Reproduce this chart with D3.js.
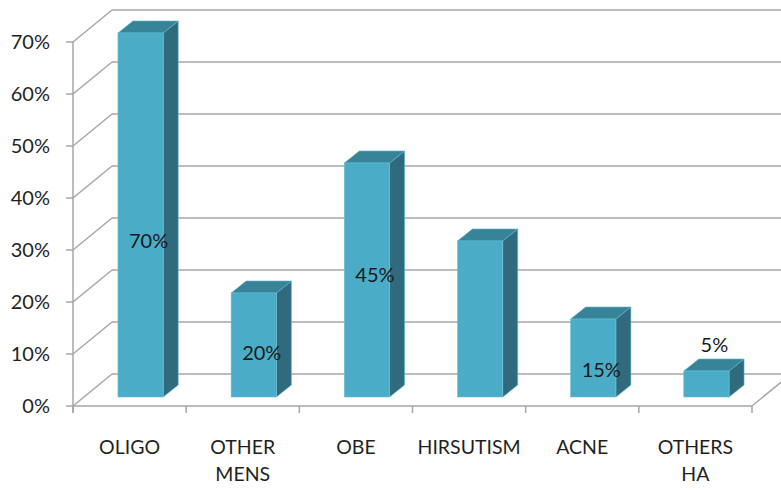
<!DOCTYPE html>
<html>
<head>
<meta charset="utf-8">
<script src="https://cdn.jsdelivr.net/npm/d3@7"></script>
<style>
  html, body { margin: 0; padding: 0; background: #fff; }
  svg { display: block; }
  text { font-family: Lato, "Open Sans", sans-serif; fill: #1f1f1f; }
</style>
</head>
<body>
<div id="chart"></div>
<script>
// ---- data ----
const categories = ["OLIGO", "OTHER\nMENS", "OBE", "HIRSUTISM", "ACNE", "OTHERS\nHA"];
const values = [0.70, 0.20, 0.45, 0.30, 0.15, 0.05];
const dataLabels = ["70%", "20%", "45%", "", "15%", "5%"];
// estimated vertical placement of each data label, in value units
const labelAt = [0.30, 0.085, 0.235, 0, 0.052, 0.10];
const yTicks = [0, 0.1, 0.2, 0.3, 0.4, 0.5, 0.6, 0.7];

// ---- layout ----
const W = 781, H = 490;
const depth = { dx: 39, dy: -32 };      // floor depth
const barOff = { dx: 11, dy: -9 };      // bar front plane shift
const barDepth = { dx: 15, dy: -12 };   // bar thickness in depth

const svg = d3.select("#chart").append("svg").attr("width", W).attr("height", H);

const x = d3.scaleBand().domain(d3.range(categories.length)).range([73, 752]).padding(0);
const y = d3.scaleLinear().domain([0, 0.7]).range([406, 42]);

const gridColor = "#a6a6a6";
const g = svg.append("g");

// back wall gridlines
yTicks.forEach(t => {
  g.append("line")
    .attr("x1", 73 + depth.dx).attr("x2", W + 20)
    .attr("y1", y(t) + depth.dy).attr("y2", y(t) + depth.dy)
    .attr("stroke", gridColor).attr("stroke-width", 1.5);
  // side wall diagonals
  g.append("line")
    .attr("x1", 73).attr("y1", y(t))
    .attr("x2", 73 + depth.dx).attr("y2", y(t) + depth.dy)
    .attr("stroke", gridColor).attr("stroke-width", 1.5);
  // tick marks
  g.append("line")
    .attr("x1", 66).attr("x2", 73)
    .attr("y1", y(t)).attr("y2", y(t))
    .attr("stroke", gridColor).attr("stroke-width", 1.5);
  g.append("text")
    .attr("x", 50).attr("y", y(t))
    .attr("text-anchor", "end").attr("dy", "0.35em")
    .style("font-size", "20px")
    .text(d3.format(".0%")(t));
});

// front vertical axis
g.append("line")
  .attr("x1", 73).attr("x2", 73).attr("y1", y(0.7)).attr("y2", y(0) + 7)
  .attr("stroke", gridColor).attr("stroke-width", 1.5);
// floor front edge
g.append("line")
  .attr("x1", 73).attr("x2", 752).attr("y1", y(0)).attr("y2", y(0))
  .attr("stroke", gridColor).attr("stroke-width", 1.5);
// floor right edge
g.append("line")
  .attr("x1", 752).attr("y1", y(0))
  .attr("x2", 752 + depth.dx).attr("y2", y(0) + depth.dy)
  .attr("stroke", gridColor).attr("stroke-width", 1.5);
// category ticks
d3.range(categories.length + 1).forEach(i => {
  const xx = i < categories.length ? x(i) : x.range()[1];
  g.append("line")
    .attr("x1", xx).attr("x2", xx).attr("y1", y(0)).attr("y2", y(0) + 7)
    .attr("stroke", gridColor).attr("stroke-width", 1.5);
});

// bars
const bw = x.bandwidth() * 0.4;
const bars = g.selectAll("g.bar").data(values).join("g").attr("class", "bar");
bars.each(function (v, i) {
  const sel = d3.select(this);
  const x0 = x(i) + x.bandwidth() * 0.3 + barOff.dx;
  const x1 = x0 + bw;
  const yb = y(0) + barOff.dy;
  const yt = y(v) + barOff.dy;
  // side
  sel.append("path")
    .attr("d", `M${x1},${yt}L${x1 + barDepth.dx},${yt + barDepth.dy}L${x1 + barDepth.dx},${yb + barDepth.dy}L${x1},${yb}Z`)
    .attr("fill", "#2f6b7d").attr("stroke", "#5fb6cf").attr("stroke-width", 0.6);
  // top
  sel.append("path")
    .attr("d", `M${x0},${yt}L${x0 + barDepth.dx},${yt + barDepth.dy}L${x1 + barDepth.dx},${yt + barDepth.dy}L${x1},${yt}Z`)
    .attr("fill", "#378498").attr("stroke", "#5fb6cf").attr("stroke-width", 0.6);
  // front
  sel.append("rect")
    .attr("x", x0).attr("y", yt).attr("width", bw).attr("height", yb - yt)
    .attr("fill", "#4bacc8").attr("stroke", "#6cc0d8").attr("stroke-width", 0.6);
});

// data labels
dataLabels.forEach((lab, i) => {
  if (!lab) return;
  const cx = x(i) + x.bandwidth() / 2 + barOff.dx + 8;
  g.append("text")
    .attr("x", cx).attr("y", y(labelAt[i]) + barOff.dy)
    .attr("text-anchor", "middle").attr("dy", "0.35em")
    .style("font-size", "20px").style("fill", "#1a1a1a")
    .text(lab);
});

// category labels
categories.forEach((c, i) => {
  const t = g.append("text")
    .attr("x", x(i) + x.bandwidth() / 2).attr("y", 454)
    .attr("text-anchor", "middle")
    .style("font-size", "19.5px");
  c.split("\n").forEach((line, k) => {
    t.append("tspan").attr("x", x(i) + x.bandwidth() / 2).attr("dy", k === 0 ? 0 : 27).text(line);
  });
});
</script>
</body>
</html>
